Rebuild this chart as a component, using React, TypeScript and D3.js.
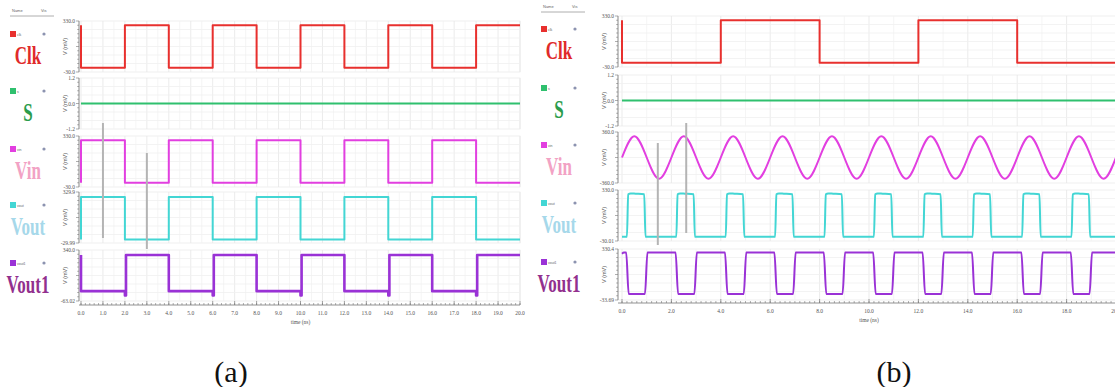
import * as d3 from "d3";

// ---- data ----
const rowNames = ["Clk", "S", "Vin", "Vout", "Vout1"];
const netNames = ["clk", "s", "vin", "vout", "vout1"];
const traceColors = ["#e8302e", "#2fc06e", "#e23fe0", "#43d6d4", "#9a32d6"];
const labelColors = ["#e02a2a", "#2b9c4c", "#f2a2c4", "#a6d8ea", "#92308e"];

// y domains + tick labels per row
const domainsA: [number, number][] = [[-30, 330], [-1.2, 1.2], [-30, 330], [-29.99, 329.9], [-63.02, 340]];
const tickLabelsA = [["330.0", "-30.0"], ["1.2", "0.0", "-1.2"], ["330.0", "-30.0"], ["329.9", "-29.99"], ["340.0", "-63.02"]];
const domainsB: [number, number][] = [[-30, 330], [-1.2, 1.2], [-360, 360], [-30.01, 330], [-33.69, 330.4]];
const tickLabelsB = [["330.0", "-30.0"], ["1.2", "0.0", "-1.2"], ["360.0", "-360.0"], ["330.0", "-30.01"], ["330.4", "-33.69"]];

// (a) square waves, step points (ns, mV)
const clkATime = [0, 0, 2, 4, 6, 8, 10, 12, 14, 16, 18, 20];
const clkAVal = [300, 0, 300, 0, 300, 0, 300, 0, 300, 0, 300, 300];
const sATime = [0, 20];
const sAVal = [0, 0];
const vinATime = [0, 0, 2, 4, 6, 8, 10, 12, 14, 16, 18, 20];
const vinAVal = [0, 300, 0, 300, 0, 300, 0, 300, 0, 300, 0, 0];
const voutATime = [0, 0, 2, 4, 6, 8, 10, 12, 14, 16, 18, 20];
const voutAVal = [-5, 295, -5, 295, -5, 295, -5, 295, -5, 295, -5, -5];
const vout1ATime = [0, 0, 2, 2.05, 4, 6, 6.05, 8, 10, 10.05, 12, 14, 14.05, 16, 18, 18.05, 20];
const vout1AVal = [300, 15, -20, 300, 15, -20, 300, 15, -20, 300, 15, -20, 300, 15, -20, 300, 300];

// (b)
const clkBTime = [0, 0, 4, 8, 12, 16, 20];
const clkBVal = [300, 0, 300, 0, 300, 0, 0];
const sBTime = [0, 20];
const sBVal = [0, 0];
const vinBTime = d3.range(0, 20.01, 0.5);
const vinBVal = [
  0, 300, 0, -300, 0, 300, 0, -300, 0, 300, 0, -300, 0, 300, 0, -300, 0, 300, 0, -300, 0,
  300, 0, -300, 0, 300, 0, -300, 0, 300, 0, -300, 0, 300, 0, -300, 0, 300, 0, -300, 0,
];
const voutBRise = [0.2, 2.2, 4.2, 6.2, 8.2, 10.2, 12.2, 14.2, 16.2, 18.2];
const voutBFall = [0.95, 2.95, 4.95, 6.95, 8.95, 10.95, 12.95, 14.95, 16.95, 18.95];
const voutBHigh = 300;
const voutBPeak = 306;
const voutBLow = 0;
const vout1BHigh = 305;
const vout1BLow = 10;

// cursor markers (ns)
const markersA = [1.0, 3.0];
const markersB = [1.45, 2.6];

type Pt = [number, number];
const zip = (t: number[], v: number[]): Pt[] => t.map((x, i) => [x, v[i]]);

function voutBPoints(): Pt[] {
  const pts: Pt[] = [[0, voutBLow]];
  voutBRise.forEach((r, i) => {
    const f = voutBFall[i];
    pts.push([r, voutBLow], [r + 0.05, voutBHigh], [r + 0.15, voutBPeak], [r + 0.35, voutBPeak - 2], [f - 0.05, voutBHigh], [f, voutBLow]);
  });
  pts.push([20, voutBLow]);
  return pts;
}
function vout1BPoints(): Pt[] {
  const pts: Pt[] = [[0, vout1BHigh - 8], [0.08, vout1BHigh]];
  voutBRise.forEach((r, i) => {
    const f = voutBFall[i];
    pts.push([r - 0.03, vout1BHigh], [r + 0.07, vout1BLow], [f - 0.02, vout1BLow], [f + 0.08, vout1BHigh]);
  });
  pts.push([20, vout1BHigh]);
  return pts;
}

const seriesA: { pts: Pt[]; curve: d3.CurveFactory; w: number }[] = [
  { pts: zip(clkATime, clkAVal), curve: d3.curveStepAfter, w: 2 },
  { pts: zip(sATime, sAVal), curve: d3.curveLinear, w: 2 },
  { pts: zip(vinATime, vinAVal), curve: d3.curveStepAfter, w: 2 },
  { pts: zip(voutATime, voutAVal), curve: d3.curveStepAfter, w: 2 },
  { pts: zip(vout1ATime, vout1AVal), curve: d3.curveStepAfter, w: 2.6 },
];
const seriesB: { pts: Pt[]; curve: d3.CurveFactory; w: number }[] = [
  { pts: zip(clkBTime, clkBVal), curve: d3.curveStepAfter, w: 2 },
  { pts: zip(sBTime, sBVal), curve: d3.curveLinear, w: 2 },
  { pts: zip(vinBTime, vinBVal), curve: d3.curveNatural, w: 2 },
  { pts: voutBPoints(), curve: d3.curveMonotoneX, w: 2 },
  { pts: vout1BPoints(), curve: d3.curveMonotoneX, w: 2 },
];

type PanelProps = {
  base: number;
  axisX: number;
  x0: number;
  x1: number;
  rowTops: number[];
  rowH: number;
  xAxisY: number;
  headerY: number;
  labelStep: number;
  gridStep: number;
  domains: [number, number][];
  tickLabels: string[][];
  series: { pts: Pt[]; curve: d3.CurveFactory; w: number }[];
  markers: number[];
  markerSpans: [number, number][];
};

function Panel(p: PanelProps) {
  const x = d3.scaleLinear().domain([0, 20]).range([p.x0, p.x1]);
  const minor = d3.range(0, 20.001, 0.2);
  const major = d3.range(0, 20.001, p.labelStep);
  const tickFont = "'Liberation Serif', serif";

  return (
    <g>
      {/* legend header */}
      <text x={p.base + 12} y={p.headerY} fontSize={4} fill="#666" fontFamily="Arial">Name</text>
      <text x={p.base + 41} y={p.headerY} fontSize={4} fill="#666" fontFamily="Arial">Vis</text>
      <line x1={p.base + 10} x2={p.base + 54} y1={p.headerY + 4} y2={p.headerY + 4} stroke="#999" strokeWidth={0.8} />

      {rowNames.map((name, i) => {
        const top = p.rowTops[i];
        const bot = top + p.rowH;
        const y = d3.scaleLinear().domain(p.domains[i]).range([bot, top]);
        const line = d3.line<Pt>().x((d) => x(d[0])).y((d) => y(d[1])).curve(p.series[i].curve);
        const labels = p.tickLabels[i];
        const labelY = labels.length === 3 ? [top, (top + bot) / 2, bot] : [top, bot];
        const hGrid = d3.range(1, 6).map((k) => top + (k * p.rowH) / 6);
        return (
          <g key={name}>
            {/* grid */}
            <rect x={p.axisX} y={top} width={p.x1 - p.axisX} height={p.rowH} fill="#fff" stroke="#ececec" strokeWidth={0.8} />
            {d3.range(0, 20.001, p.gridStep / 2).map((t) => (
              <line key={"g" + t} x1={x(t)} x2={x(t)} y1={top} y2={bot} stroke={Math.abs(t / p.gridStep - Math.round(t / p.gridStep)) < 1e-6 ? "#e6e6e6" : "#f3f3f3"} strokeWidth={0.8} />
            ))}
            {hGrid.map((gy) => (
              <line key={"h" + gy} x1={p.axisX} x2={p.x1} y1={gy} y2={gy} stroke="#f0f0f0" strokeWidth={0.8} />
            ))}
            {/* y axis */}
            <line x1={p.axisX} x2={p.axisX} y1={top} y2={bot} stroke="#777" strokeWidth={0.8} />
            {d3.range(0, 13).map((k) => (
              <line key={"t" + k} x1={p.axisX - (k % 6 === 0 ? 3 : 1.8)} x2={p.axisX} y1={top + (k * p.rowH) / 12} y2={top + (k * p.rowH) / 12} stroke="#777" strokeWidth={0.6} />
            ))}
            {labels.map((l, k) => (
              <text key={l + k} x={p.axisX - 4} y={labelY[k] + 2} fontSize={5.5} textAnchor="end" fill="#555" fontFamily={tickFont}>{l}</text>
            ))}
            <text transform={`translate(${p.axisX - 12},${(top + bot) / 2}) rotate(-90)`} fontSize={5.5} textAnchor="middle" fill="#555" fontFamily="Arial">V (mV)</text>
            {/* trace */}
            <path d={line(p.series[i].pts) ?? ""} fill="none" stroke={traceColors[i]} strokeWidth={p.series[i].w} strokeLinejoin="round" />
            {/* legend row */}
            <rect x={p.base + 10} y={top + 10} width={6} height={6} fill={traceColors[i]} />
            <text x={p.base + 17} y={top + 15} fontSize={3.5} fill="#666" fontFamily="Arial">{netNames[i]}</text>
            <circle cx={p.base + 44} cy={top + 13} r={1.6} fill="#8c93b0" />
            <text
              transform={`translate(${p.base + 28},${top + 43}) scale(0.68,1)`}
              fontSize={25}
              fontWeight="bold"
              textAnchor="middle"
              fill={labelColors[i]}
              fontFamily="'Liberation Serif', 'Times New Roman', serif"
            >
              {name}
            </text>
          </g>
        );
      })}

      {/* cursor markers */}
      {p.markers.map((t, k) => (
        <line key={"m" + k} x1={x(t)} x2={x(t)} y1={p.markerSpans[k][0]} y2={p.markerSpans[k][1]} stroke="#b4b4b4" strokeWidth={2} />
      ))}

      {/* x axis */}
      <line x1={p.axisX} x2={p.x1} y1={p.xAxisY} y2={p.xAxisY} stroke="#777" strokeWidth={0.8} />
      {minor.map((t) => (
        <line key={"x" + t} x1={x(t)} x2={x(t)} y1={p.xAxisY} y2={p.xAxisY - 2} stroke="#777" strokeWidth={0.6} />
      ))}
      {major.map((t) => (
        <g key={"l" + t}>
          <line x1={x(t)} x2={x(t)} y1={p.xAxisY} y2={p.xAxisY - 4} stroke="#777" strokeWidth={0.7} />
          <text x={x(t)} y={p.xAxisY + 10} fontSize={5.5} textAnchor="middle" fill="#555" fontFamily={tickFont}>{d3.format(".1f")(t)}</text>
        </g>
      ))}
      <text x={x(10)} y={p.xAxisY + 19} fontSize={5.5} textAnchor="middle" fill="#555" fontFamily={tickFont}>time (ns)</text>
    </g>
  );
}

export default function App() {
  return (
    <svg width={1115} height={387} style={{ position: "absolute", left: 0, top: 0, background: "#fff" }}>
      <rect width={1115} height={387} fill="#fff" />
      <Panel
        base={0}
        axisX={79}
        x0={81}
        x1={520}
        rowTops={[21, 78, 136, 192, 250]}
        rowH={51}
        xAxisY={305}
        headerY={12}
        labelStep={1}
        gridStep={1}
        domains={domainsA}
        tickLabels={tickLabelsA}
        series={seriesA}
        markers={markersA}
        markerSpans={[[123, 238], [153, 249]]}
      />
      <Panel
        base={531}
        axisX={618}
        x0={622}
        x1={1116}
        rowTops={[16, 75, 132, 190, 249]}
        rowH={51}
        xAxisY={303}
        headerY={8}
        labelStep={2}
        gridStep={2}
        domains={domainsB}
        tickLabels={tickLabelsB}
        series={seriesB}
        markers={markersB}
        markerSpans={[[143, 245], [123, 233]]}
      />
      <text x={231} y={382} fontSize={30} textAnchor="middle" fontFamily="'Liberation Serif', serif" fill="#111">(a)</text>
      <text x={894} y={382} fontSize={30} textAnchor="middle" fontFamily="'Liberation Serif', serif" fill="#111">(b)</text>
    </svg>
  );
}
